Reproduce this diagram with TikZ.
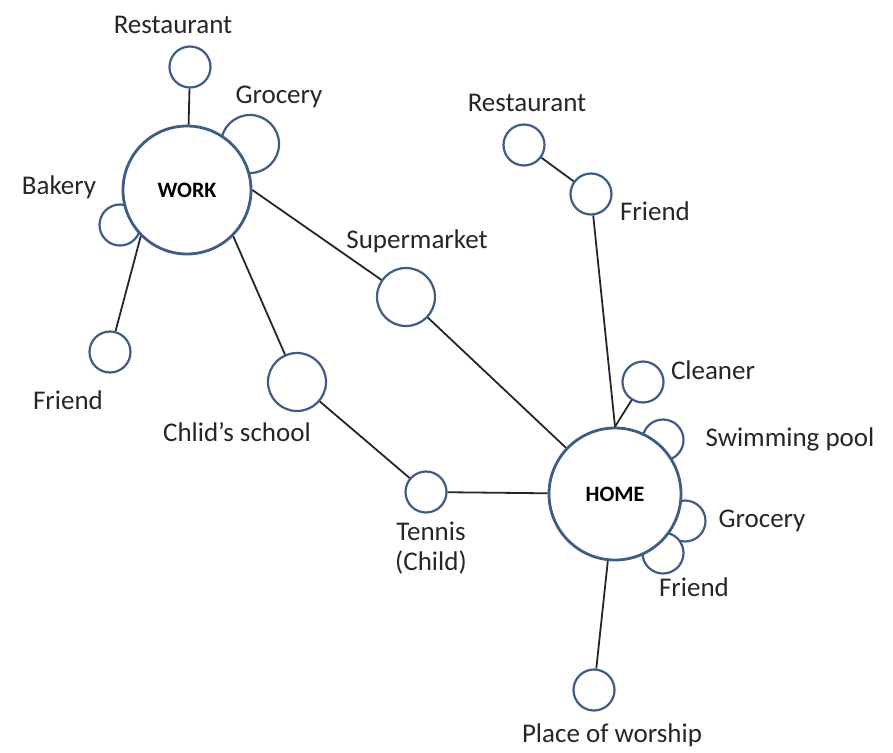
\documentclass[tikz,border=0pt]{standalone}
\usepackage{fontspec}
\setmainfont{Carlito}
\usepackage{tikz}
\usetikzlibrary{positioning}
\definecolor{ringblue}{RGB}{62,92,132}

\begin{document}
\begin{tikzpicture}
	[x=1pt, y=-1pt, thick, font=\fontsize{27}{30}\selectfont,
	 hub/.style = {draw=ringblue, circle, fill=white, line width=2.8pt, minimum size=128pt, inner sep=0pt, font=\fontsize{22}{24}\selectfont\bfseries},
	 spot/.style = {draw=ringblue, circle, fill=white, line width=2.2pt, minimum size=41pt, inner sep=0pt},
	 bigspot/.style = {spot, minimum size=58pt},
	 lbl/.style = {inner sep=0pt, text=black!85},
	 link/.style = {line width=1.8pt, black!85}]
	\useasboundingbox (0,0) rectangle (893,752);
	% places hidden partly behind the hubs
	\node[bigspot] (wgro) at (250,144) {};
	\node[spot] (wbak) at (120,225) {};
	\node[spot] (hswim) at (663,440) {};
	\node[spot] (hgro) at (685,521) {};
	\node[spot] (hfri) at (663,553) {};
	% the two hubs
	\node[hub] (work) at (187,190) {WORK};
	\node[hub, minimum size=132pt] (home) at (615,494) {HOME};
	% other places
	\node[spot] (wres) at (190,67) {};
	\node[spot] (wfri) at (110,352) {};
	\node[bigspot] (school) at (297,382) {};
	\node[bigspot] (super) at (406,297) {};
	\node[spot] (tennis) at (426,492) {};
	\node[spot] (hres) at (524,145) {};
	\node[spot] (hfri2) at (591,194) {};
	\node[spot] (clean) at (643,382) {};
	\node[spot] (worship) at (594,690) {};
	% labels
	\node[lbl] (l1) at (173,25) {Restaurant};
	\node[lbl] (l2) at (279,97) {Grocery};
	\node[lbl] (l3) at (59,187) {Bakery};
	\node[lbl] (l4) at (68,400) {Friend};
	\node[lbl] (l5) at (417,241) {Supermarket};
	\node[lbl] (l6) at (237,432) {Chlid's school};
	\node[lbl] (l7) at (527,103) {Restaurant};
	\node[lbl] (l8) at (655,211) {Friend};
	\node[lbl] (l9) at (713,370) {Cleaner};
	\node[lbl] (l10) at (790,439) {Swimming pool};
	\node[lbl] (l11) at (762,521) {Grocery};
	\node[lbl] (l12) at (694,587) {Friend};
	\node[lbl, align=center] (l13) at (431,548) {Tennis\\(Child)};
	\node[lbl] (l14) at (612,735) {Place of worship};
	% links
	\draw[link] (work) -- (wres);
	\draw[link] (work.225) -- (wfri);
	\draw[link] (work.east) -- (super);
	\draw[link] (work.-45) -- (school);
	\draw[link] (school) -- (tennis);
	\draw[link] (tennis) -- (home);
	\draw[link] (super) -- (home);
	\draw[link] (hres) -- (hfri2);
	\draw[link] (hfri2) -- (home.north);
	\draw[link] (clean) -- (home.north);
	\draw[link] (home) -- (worship);
\end{tikzpicture}
\end{document}
